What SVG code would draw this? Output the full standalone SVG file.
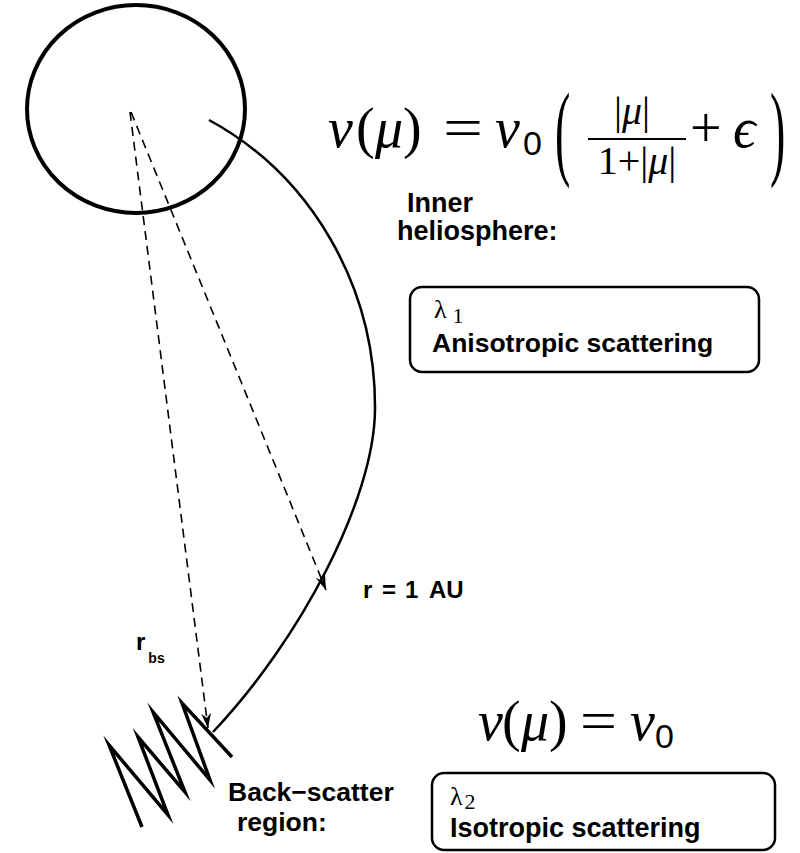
<svg xmlns="http://www.w3.org/2000/svg" width="800" height="853" viewBox="0 0 800 853">
<style>
.sans{font-family:"Liberation Sans",Arial,sans-serif;font-weight:bold;fill:#000}
.math{font-family:"Liberation Serif","DejaVu Serif",serif;fill:#000}
.it{font-style:italic}
.dash{fill:none;stroke:#000;stroke-width:1.6;stroke-dasharray:9 6}
.box{fill:#fff;stroke:#000;stroke-width:2.5}
</style>
<defs>
<marker id="ah" markerWidth="16" markerHeight="10" refX="15" refY="5" orient="auto" markerUnits="userSpaceOnUse">
<path d="M0,0 L15,5 L0,10 L5,5 z" fill="#000"/>
</marker>
</defs>
<rect width="800" height="853" fill="#fff"/>
<g id="sun">
<ellipse cx="136" cy="109" rx="109" ry="104" fill="none" stroke="#000" stroke-width="4"/>
</g>
<g id="connectors">
<path d="M209,120 C310,175 376,285 375,410 C374,500 300,640 213,732" fill="none" stroke="#000" stroke-width="2.5"/>
<line class="dash" x1="130" y1="112" x2="208" y2="728" marker-end="url(#ah)"/>
<line class="dash" x1="131" y1="112" x2="326" y2="590" marker-end="url(#ah)"/>
</g>
<g id="backscatter">
<polyline points="142,827 109,745 168,815 138,737 185,792 153,712 210,780 182,703 232,757" fill="none" stroke="#000" stroke-width="3.5" stroke-linejoin="miter" stroke-miterlimit="20"/>
</g>
<g id="formula1" class="math">
<text x="328" y="147" font-size="56" class="it">ν</text>
<text x="356" y="147" font-size="56">(</text>
<text x="375" y="147" font-size="56" class="it">μ</text>
<text x="403" y="147" font-size="56">)</text>
<text x="443" y="147" font-size="56" textLength="40" lengthAdjust="spacingAndGlyphs">=</text>
<text x="495" y="147" font-size="56" class="it">ν</text>
<text x="523" y="155" font-size="34" class="sans" style="font-weight:normal">0</text>
<text x="555" y="0" font-size="46" transform="translate(0,166) scale(1,2.3)">(</text>
<text x="632" y="124" font-size="40" text-anchor="middle">|<tspan class="it">μ</tspan>|</text>
<line x1="588" y1="139" x2="686" y2="139" stroke="#000" stroke-width="2"/>
<text x="637" y="174" font-size="40" text-anchor="middle">1+|<tspan class="it">μ</tspan>|</text>
<text x="690" y="147" font-size="56">+</text>
<text x="733" y="147" font-size="56" class="it">ϵ</text>
<text x="770" y="0" font-size="46" transform="translate(0,166) scale(1,2.3)">)</text>
</g>
<g id="formula2" class="math">
<text x="478" y="740" font-size="56" class="it">ν</text>
<text x="502" y="740" font-size="56">(</text>
<text x="521" y="740" font-size="56" class="it">μ</text>
<text x="549" y="740" font-size="56">)</text>
<text x="580" y="740" font-size="56" textLength="37" lengthAdjust="spacingAndGlyphs">=</text>
<text x="630" y="740" font-size="56" class="it">ν</text>
<text x="655" y="748" font-size="34" class="sans" style="font-weight:normal">0</text>
</g>
<g id="inner-label" class="sans">
<text x="407" y="212" font-size="27">Inner</text>
<text x="397" y="240" font-size="27">heliosphere:</text>
</g>
<g id="box1">
<rect class="box" x="410" y="287" width="349" height="85" rx="12"/>
<text class="math" x="434" y="318" font-size="26">λ<tspan font-size="22" dx="6" dy="5">1</tspan></text>
<text class="sans" x="432" y="352" font-size="26.5">Anisotropic scattering</text>
</g>
<g id="au-label" class="sans" font-size="24">
<text x="363" y="598">r</text>
<text x="382" y="598">=</text>
<text x="405" y="598">1</text>
<text x="429" y="598">AU</text>
</g>
<g id="rbs-label" class="sans">
<text x="136" y="650" font-size="24">r<tspan font-size="14" dx="3" dy="13">bs</tspan></text>
</g>
<g id="bs-label" class="sans">
<text x="228" y="801" font-size="26.5">Back−scatter</text>
<text x="237" y="831" font-size="26.5">region:</text>
</g>
<g id="box2">
<rect class="box" x="432" y="773" width="343" height="77" rx="12"/>
<text class="math" x="450" y="805" font-size="26">λ<tspan font-size="22" dx="2" dy="4">2</tspan></text>
<text class="sans" x="450" y="837" font-size="27">Isotropic scattering</text>
</g>
</svg>
